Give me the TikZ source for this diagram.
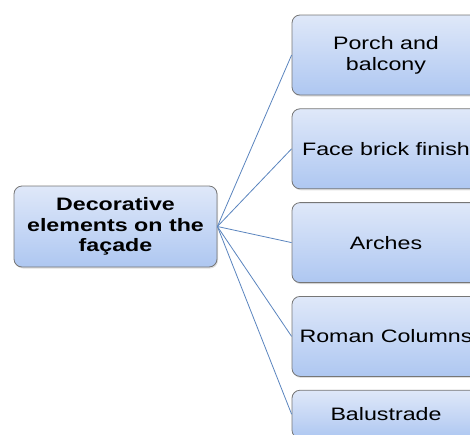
\documentclass[tikz,border=0pt]{standalone}
\usepackage{fontspec}
\setmainfont{Liberation Sans}[FakeStretch=1.29]
\usepackage{tikz}
\usetikzlibrary{positioning,shadows}
\definecolor{BoxTop}{HTML}{DFE8F9}
\definecolor{BoxBottom}{HTML}{AEC7F1}
\definecolor{BoxEdge}{HTML}{767676}
\definecolor{LinkBlue}{HTML}{5A84BE}

\begin{document}
\begin{tikzpicture}[
        every node/.style={font=\fontsize{18}{21}\selectfont},
        main/.style={draw=BoxEdge,top color=BoxTop,bottom color=BoxBottom,rounded corners=8pt,line width=0.8pt,
          minimum width=203pt,minimum height=81pt,align=center,inner sep=2pt,font=\fontsize{18}{20.5}\selectfont\bfseries,
          drop shadow={opacity=0.25,shadow xshift=1pt,shadow yshift=-1.5pt}},
        item/.style={draw=BoxEdge,top color=BoxTop,bottom color=BoxBottom,rounded corners=8pt,line width=0.8pt,
          minimum width=188pt,minimum height=80pt,align=center,inner sep=2pt,
          drop shadow={opacity=0.25,shadow xshift=1pt,shadow yshift=-1.5pt}},
        link/.style={LinkBlue,line width=0.8pt}
      ]
        \useasboundingbox (0,0) rectangle (470pt,-434pt);
        \node[main] (decor) at (115.5pt,-226.5pt) {Decorative\\elements on the\\façade};
        \node[item] (porch) at (386pt,-55pt) {Porch and\\balcony};
        \node[item,below=13pt of porch] (brick) {Face brick finish};
        \node[item,below=13pt of brick] (arch) {Arches};
        \node[item,below=13pt of arch] (column) {Roman Columns};
        \node[item,below=13pt of column,minimum height=48pt] (balust) {Balustrade};
        \foreach \part in {porch,brick,arch,column,balust}
          \draw[link] (decor.east) -- (\part.west);
      \end{tikzpicture}
\end{document}
